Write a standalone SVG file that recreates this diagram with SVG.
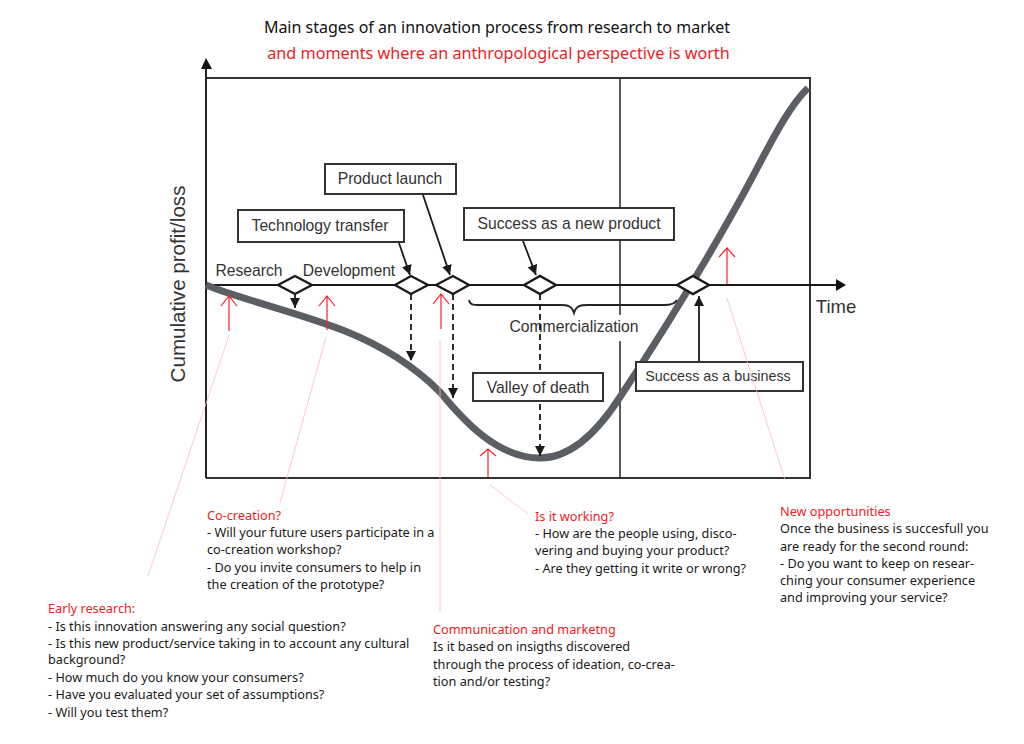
<svg xmlns="http://www.w3.org/2000/svg" width="1024" height="744" viewBox="0 0 1024 744">
<style>
.t{font-family:"Noto Sans","Open Sans",sans-serif;font-size:12.7px;fill:#1a1a1a}
.r{fill:#ed1c24}
.h{font-family:"Noto Sans","Open Sans",sans-serif;font-size:16px;text-anchor:middle}
.l{font-family:"Liberation Sans",Arial,sans-serif;font-size:15.7px;fill:#333;text-anchor:middle}
.a{font-family:"Liberation Sans",Arial,sans-serif;font-size:18.5px;fill:#333;text-anchor:middle}
.b{fill:#fff;stroke:#333;stroke-width:2}
.d{fill:#fff;stroke:#1a1a1a;stroke-width:2.4}
.c{fill:none;stroke:#1a1a1a;stroke-width:1.8;marker-end:url(#a)}
.ds{fill:none;stroke:#1a1a1a;stroke-width:1.8;stroke-dasharray:6 4;marker-end:url(#a)}
.ra{fill:none;stroke:#f5222d;stroke-width:1.2}
.rl{fill:none;stroke:#f9bcbc;stroke-width:.8}
</style>
<defs>
<marker id="a" markerWidth="10" markerHeight="10" refX="10" refY="5" orient="auto" markerUnits="userSpaceOnUse"><path d="M0 0L10 5L0 10Z" fill="#1a1a1a"/></marker>
</defs>
<rect width="1024" height="744" fill="#fff"/>
<g id="titles">
<text class="h" x="497" y="33" fill="#111">Main stages of an innovation process from research to market</text>
<text class="h r" x="498.500" y="59" style="font-size:16.2px">and moments where an anthropological perspective is worth</text>
</g>
<g id="chart">
<path d="M206 78H810V478H206" fill="none" stroke="#333" stroke-width="2"/>
<path d="M620 78V315M620 341V478" fill="none" stroke="#333" stroke-width="1.6"/>
<path d="M206 478V68" fill="none" stroke="#222" stroke-width="2"/>
<path d="M201 69L206 58L212 69Z" fill="#111"/>
<path d="M206 285H836" fill="none" stroke="#1a1a1a" stroke-width="2.2"/>
<path d="M836 279L846 285L836 291Z" fill="#111"/>
<path id="curve" d="M206 285C240 299 300 313 345 331C380 345 412 364 440 392C463 420 497 458 540 458C575 458 602 425 620 397C650 352 690 290 740 200C765 155 785 110 808 88" fill="none" stroke="#5b5e63" stroke-width="7"/>
<text transform="translate(185 284) rotate(-90)" class="a" style="font-size:20.6px">Cumulative profit/loss</text>
<text class="a" x="836" y="313">Time</text>
<text class="l" x="249" y="276">Research</text>
<text class="l" x="349" y="276">Development</text>
<text class="l" x="574" y="332">Commercialization</text>
<path d="M469 300C470 305 473 305 480 305H560C568 305 572 306 574 313C576 306 580 305 588 305H664C671 305 675 304 677 300" fill="none" stroke="#222" stroke-width="1.8"/>
</g>
<g id="connectors">
<path class="c" d="M295 294V308"/>
<path class="ds" d="M411 294V361"/>
<path class="ds" d="M453 294V398"/>
<path class="ds" d="M540 294V456"/>
<path class="c" d="M399 243L410 275"/>
<path class="c" d="M423 195L450 275"/>
<path class="c" d="M523 241L536 275"/>
<path class="c" d="M699 362V296"/>
</g>
<g id="node-research-dev"><path class="d" d="M278 285L295 276L312 285L295 294Z"/></g>
<g id="node-tech"><path class="d" d="M395 285L411 276L428 285L411 294Z"/></g>
<g id="node-launch"><path class="d" d="M436 285L453 276L469 285L453 294Z"/></g>
<g id="node-success-prod"><path class="d" d="M524 285L540 276L556 285L540 294Z"/></g>
<g id="node-success-biz"><path class="d" d="M677 285L693 276L709 285L693 294Z"/></g>
<g id="box-launch"><rect class="b" x="325" y="164" width="131" height="30"/><text class="l" x="390" y="184">Product launch</text></g>
<g id="box-tech"><rect class="b" x="238" y="210" width="166" height="32"/><text class="l" x="320" y="231">Technology transfer</text></g>
<g id="box-success-prod"><rect class="b" x="464" y="208" width="210" height="32"/><text class="l" x="569" y="229">Success as a new product</text></g>
<g id="box-valley"><rect class="b" x="473" y="373" width="130" height="28"/><text class="l" x="538" y="393">Valley of death</text></g>
<g id="box-success-biz"><rect class="b" x="636" y="362" width="167" height="29"/><text class="l" x="718" y="381" style="font-size:14.3px">Success as a business</text></g>
<g id="red-leaders">
<path class="ra" d="M229 331V296M221 306L229 296L237 306"/>
<path class="ra" d="M327 330V296M319 306L327 296L335 306"/>
<path class="ra" d="M441 329V294M433 304L441 294L449 304"/>
<path class="ra" d="M488 477V449M480 456L488 449L496 456"/>
<path class="ra" d="M727 284V248M719 257L727 248L735 257"/>
<path class="rl" d="M229 335L148 576"/>
<path class="rl" d="M326 337L280 503"/>
<path class="rl" d="M440 340V612"/>
<path class="rl" d="M490 485L528 514"/>
<path class="rl" d="M727 298L785 480"/>
</g>
<g id="note-early">
<text class="t r" x="48" y="613">Early research:</text>
<text class="t" x="48" y="631">- Is this innovation answering any social question?</text>
<text class="t" x="48" y="648">- Is this new product/service taking in to account any cultural</text>
<text class="t" x="48" y="664">background?</text>
<text class="t" x="48" y="682">- How much do you know your consumers?</text>
<text class="t" x="48" y="699">- Have you evaluated your set of assumptions?</text>
<text class="t" x="48" y="717">- Will you test them?</text>
</g>
<g id="note-cocreation">
<text class="t r" x="207" y="520">Co-creation?</text>
<text class="t" x="207" y="537">- Will your future users participate in a</text>
<text class="t" x="207" y="554">co-creation workshop?</text>
<text class="t" x="207" y="572">- Do you invite consumers to help in</text>
<text class="t" x="207" y="589">the creation of the prototype?</text>
</g>
<g id="note-working">
<text class="t r" x="535" y="521">Is it working?</text>
<text class="t" x="535" y="538">- How are the people using, disco-</text>
<text class="t" x="535" y="555">vering and buying your product?</text>
<text class="t" x="535" y="573">- Are they getting it write or wrong?</text>
</g>
<g id="note-marketing">
<text class="t r" x="433" y="634">Communication and marketng</text>
<text class="t" x="433" y="651">Is it based on insigths discovered</text>
<text class="t" x="433" y="669">through the process of ideation, co-crea-</text>
<text class="t" x="433" y="686">tion and/or testing?</text>
</g>
<g id="note-opportunities">
<text class="t r" x="780" y="516">New opportunities</text>
<text class="t" x="780" y="533">Once the business is succesfull you</text>
<text class="t" x="780" y="551">are ready for the second round:</text>
<text class="t" x="780" y="568">- Do you want to keep on resear-</text>
<text class="t" x="780" y="585">ching your consumer experience</text>
<text class="t" x="780" y="602">and improving your service?</text>
</g>
</svg>
